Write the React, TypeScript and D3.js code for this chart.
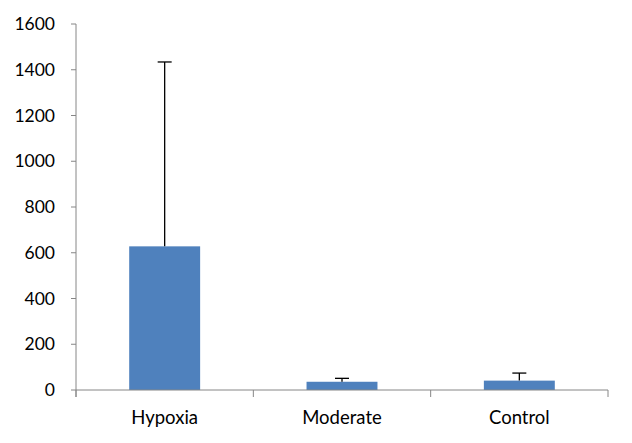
import React from "react";
import * as d3 from "d3";

const categories = ["Hypoxia", "Moderate", "Control"];
const values = [628, 36, 41];
const errorTops = [1434, 51, 74];
const yTicks = [0, 200, 400, 600, 800, 1000, 1200, 1400, 1600];

const W = 632;
const H = 443;
const left = 76;
const right = 608;
const top = 24;
const bottom = 390;

export default function App() {
  const x = d3.scaleBand<string>().domain(categories).range([left, right]).paddingInner(0).paddingOuter(0);
  const y = d3.scaleLinear().domain([0, 1600]).range([bottom, top]);
  const bw = x.bandwidth() / 2.5;
  const axisColor = "#868686";
  const font = "Lato, 'Open Sans', sans-serif";
  const boundaries = [left, ...categories.map((c) => (x(c) as number) + x.bandwidth())];
  return (
    <svg width={W} height={H} style={{ position: "absolute", left: 0, top: 0, background: "#fff" }}>
      {categories.map((c, i) => {
        const cx = (x(c) as number) + x.bandwidth() / 2;
        return (
          <g key={c}>
            <rect x={cx - bw / 2} y={y(values[i])} width={bw} height={bottom - y(values[i])} fill="#4F81BD" />
            <line x1={cx} x2={cx} y1={y(values[i])} y2={y(errorTops[i])} stroke="#000" strokeWidth={1.3} />
            <line x1={cx - 7} x2={cx + 7} y1={y(errorTops[i])} y2={y(errorTops[i])} stroke="#000" strokeWidth={1.3} />
            <text x={cx} y={424} textAnchor="middle" fontFamily={font} fontSize={18.5} fill="#000">{c}</text>
          </g>
        );
      })}
      <line x1={left} x2={left} y1={top} y2={bottom + 7} stroke={axisColor} strokeWidth={1} />
      <line x1={left} x2={right} y1={bottom} y2={bottom} stroke={axisColor} strokeWidth={1} />
      {yTicks.map((t) => (
        <g key={t}>
          <line x1={left - 5} x2={left} y1={y(t)} y2={y(t)} stroke={axisColor} />
          <text x={55} y={y(t) + 6} textAnchor="end" fontFamily={font} fontSize={17.5} fill="#000">{t}</text>
        </g>
      ))}
      {boundaries.map((b, i) => (
        <line key={i} x1={b} x2={b} y1={bottom} y2={bottom + 7} stroke={axisColor} />
      ))}
    </svg>
  );
}
